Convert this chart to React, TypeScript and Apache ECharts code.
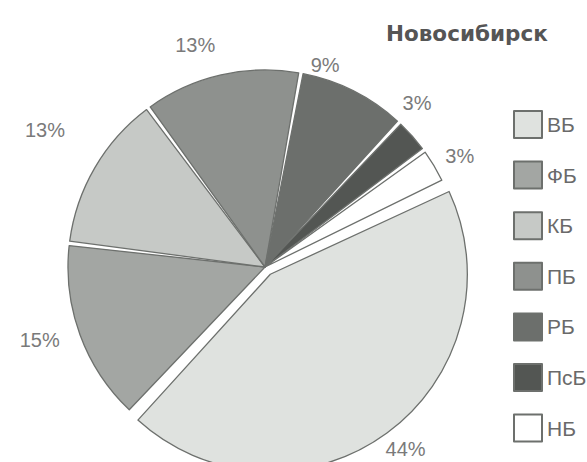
import React, { useEffect, useRef } from 'react';
import * as echarts from 'echarts';

const categories = ['ВБ', 'ФБ', 'КБ', 'ПБ', 'РБ', 'ПсБ', 'НБ'];
const shares = [44, 15, 13, 13, 9, 3, 3];
const sliceColors = ['#dfe2df', '#a3a6a3', '#c6c9c6', '#8e918e', '#6c6f6c', '#535653', '#ffffff'];
const exploded = ['ВБ'];
// label placement tweaks (labelLine length / length2, label line itself hidden)
const labelLen = [19.6, 15.2, 74, 30.7, 29.2, 49.6, 19];
const labelLen2 = [-18, 1, -39, -6, -61, -51.5, -10];

export default function App() {
  const ref = useRef<HTMLDivElement>(null);
  useEffect(() => {
    const chart = echarts.init(ref.current!, undefined, { renderer: 'svg' });
    chart.setOption({
      animation: false,
      backgroundColor: '#ffffff',
      title: {
        text: 'Новосибирск',
        left: 381,
        top: 17,
        textStyle: { fontFamily: 'DejaVu Sans', fontWeight: 'bold', fontSize: 21.5, color: '#555' },
      },
      legend: {
        orient: 'vertical',
        left: 508,
        top: 105,
        itemWidth: 28,
        itemHeight: 27,
        itemGap: 21.6,
        icon: 'rect',
        textStyle: { fontFamily: 'Arial', fontSize: 21, color: '#6a6a6a' },
        data: categories,
      },
      series: [
        {
          type: 'pie',
          center: [265, 267],
          radius: 197,
          startAngle: 25.5,
          clockwise: true,
          padAngle: 1.3,
          selectedMode: 'multiple',
          selectedOffset: 9,
          avoidLabelOverlap: false,
          itemStyle: { borderColor: '#6d706d', borderWidth: 1.3 },
          label: {
            show: true,
            position: 'outside',
            formatter: '{c}%',
            fontFamily: 'Arial',
            fontSize: 20,
            color: '#7a7a7a',
          },
          labelLine: { show: false },
          emphasis: { disabled: true },
          data: categories.map((name, i) => ({
            name,
            value: shares[i],
            selected: exploded.includes(name),
            itemStyle: { color: sliceColors[i] },
            labelLine: { show: false, length: labelLen[i], length2: labelLen2[i] },
          })),
        },
      ],
    });
    return () => chart.dispose();
  }, []);
  return <div ref={ref} style={{ position: 'fixed', left: 0, top: 0, width: 587, height: 462 }} />;
}
